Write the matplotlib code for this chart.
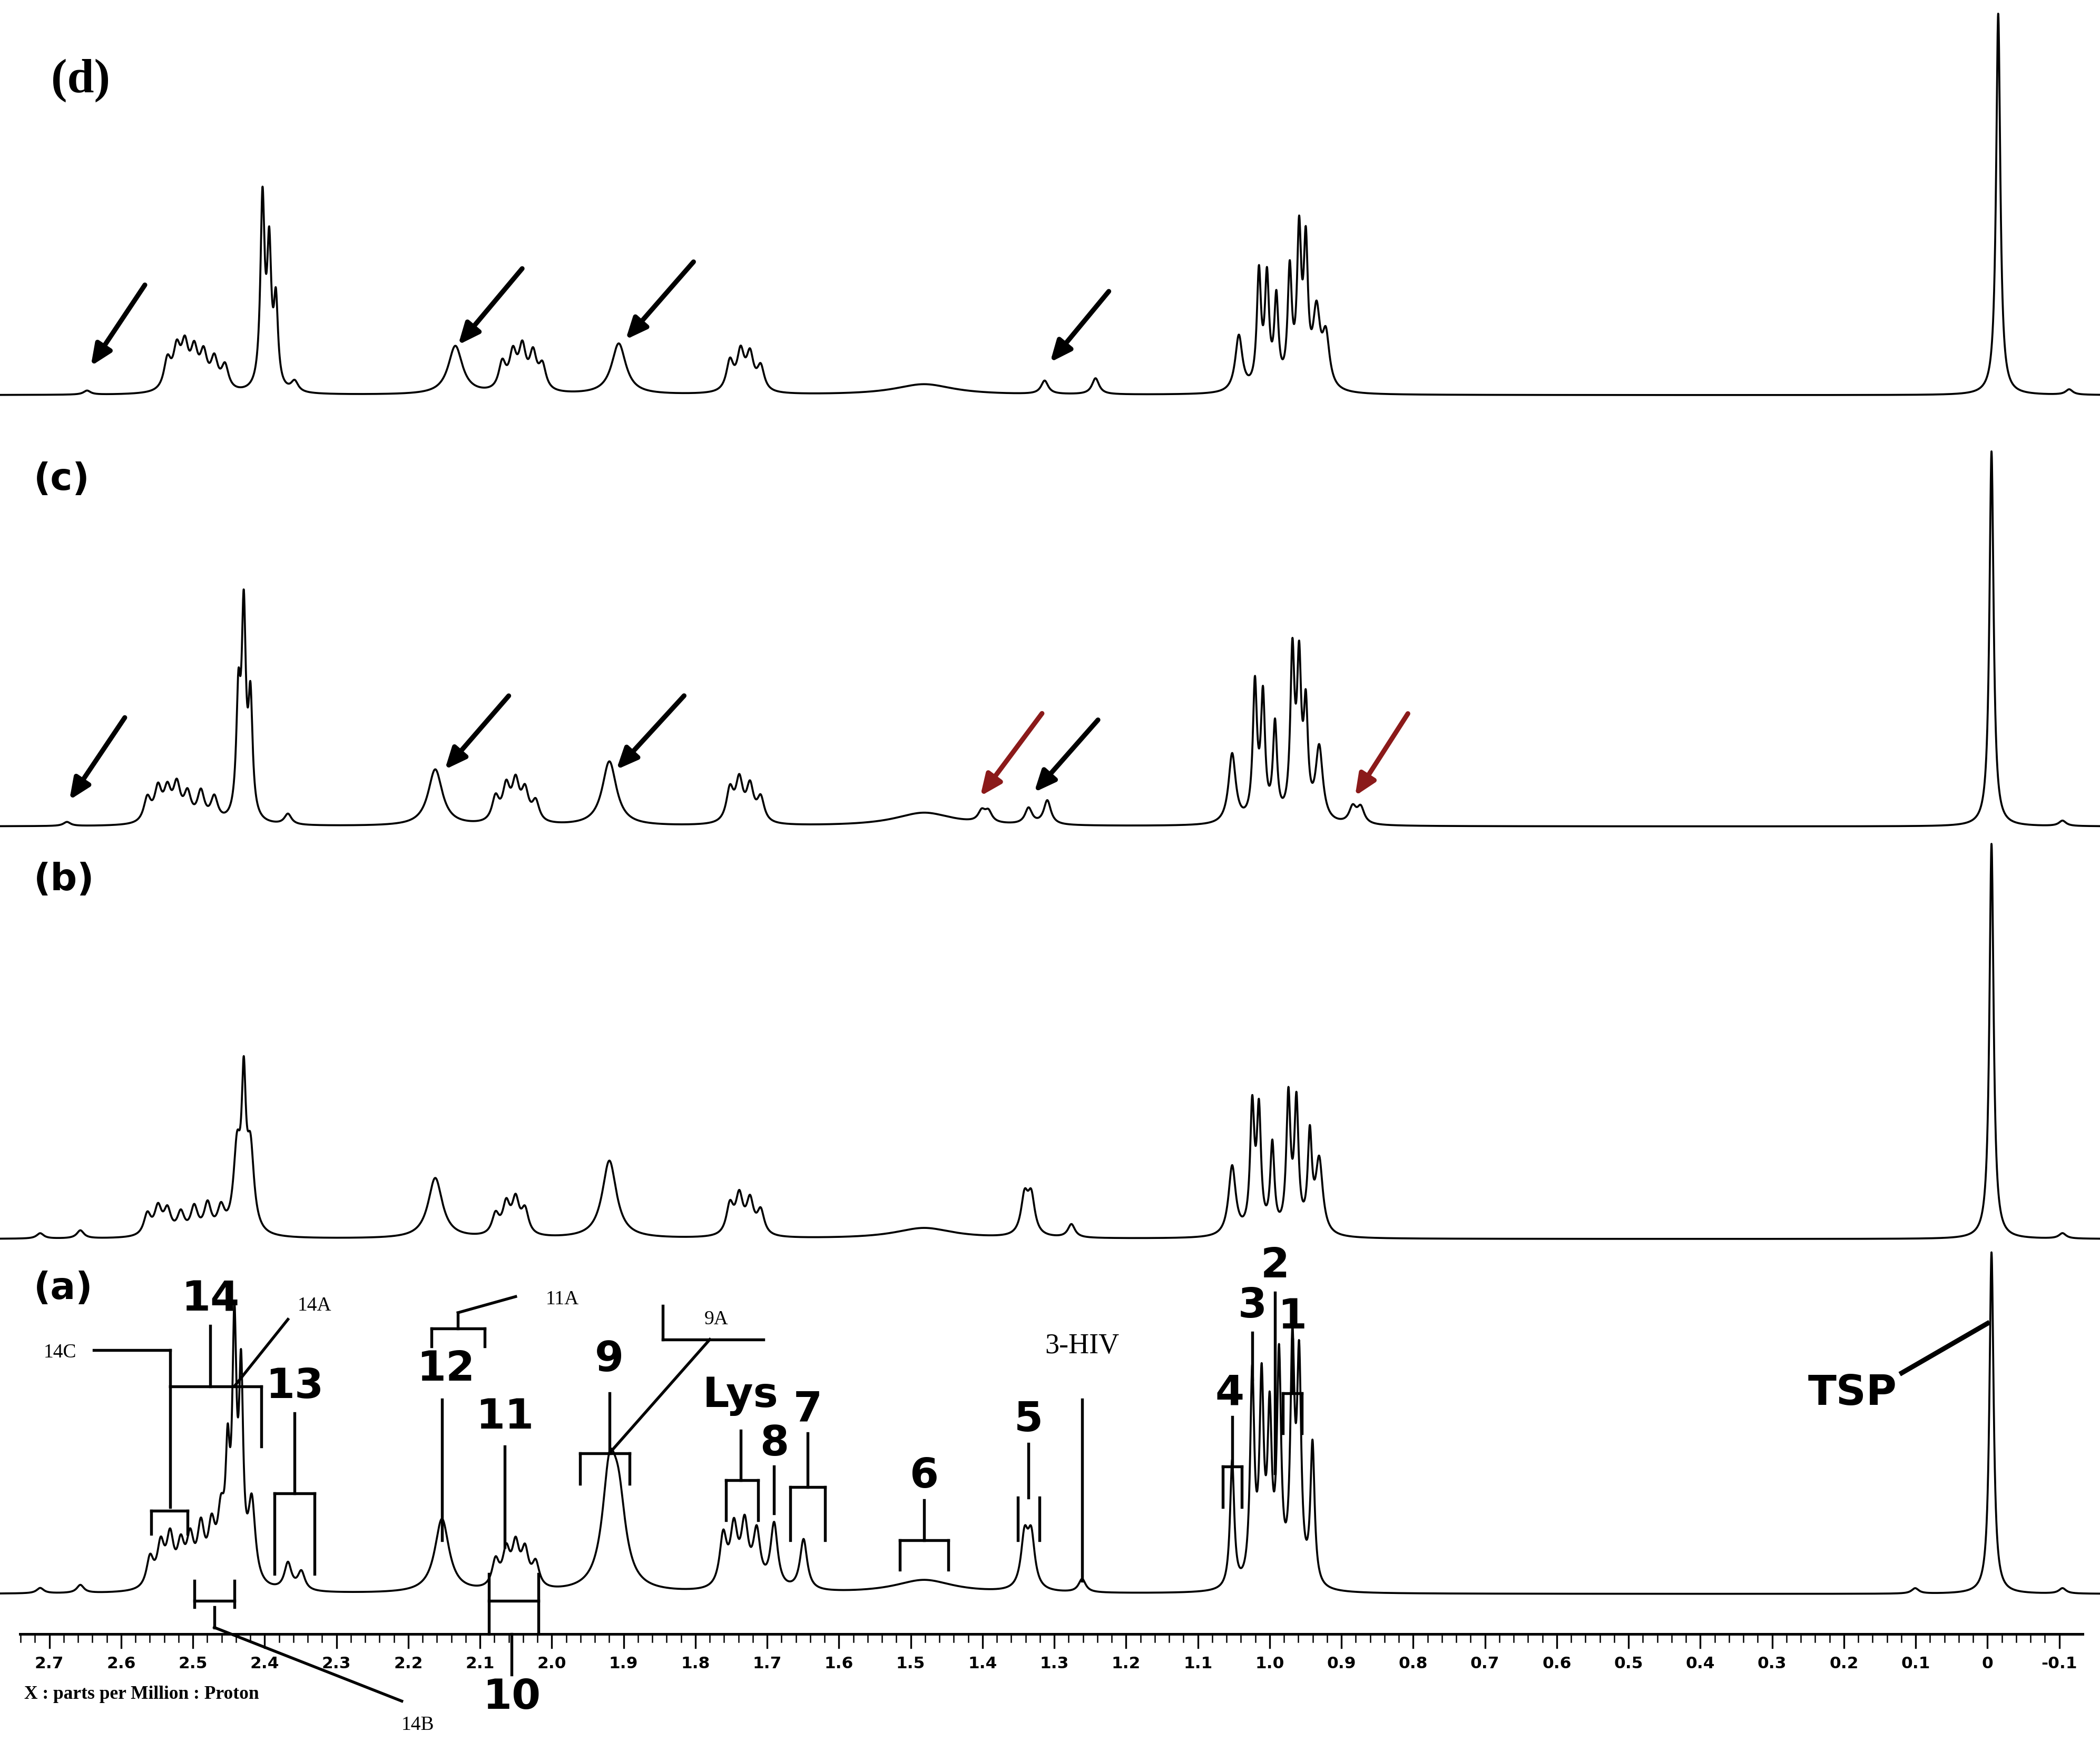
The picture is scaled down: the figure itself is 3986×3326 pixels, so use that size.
import numpy as np
import matplotlib
matplotlib.use("Agg")
import matplotlib.pyplot as plt

# ---------------- data (peak lists: ppm, height, half-width) -------------
PX0, PXPPM = 1484.0, 536.0   # reference pixel of 0 ppm and pixels per ppm
def ppm(xpx): return (PX0 - xpx) / PXPPM

spec_d_pos = [65,125,132,138,145,152,160,168,196,201,206,220,340,375,383,390,398,405,462,545,553,560,568,690,780,818,925,940,946,953,963,970,975,983,990,1492,1545]
spec_d_h   = [3,22,28,30,27,25,22,18,140,100,62,8,36,20,26,30,26,18,38,22,28,26,18,8,10,12,42,85,80,65,85,110,100,55,38,285,4]
spec_c_pos = [50,110,118,125,132,140,150,160,178,182,187,215,325,370,378,385,392,400,455,545,552,560,568,690,733,738,768,782,920,937,943,952,965,970,975,985,1010,1016,1487,1540]
spec_c_h   = [3,18,24,22,26,20,22,18,85,150,85,8,42,18,25,28,22,15,48,24,30,26,18,10,8,8,12,18,52,100,90,70,120,110,78,55,12,12,280,4]
spec_b_pos = [30,60,110,118,125,135,145,155,165,177,182,187,325,370,378,385,392,455,545,552,560,568,690,765,770,800,920,935,940,950,962,968,978,985,1487,1540]
spec_b_h   = [4,6,16,20,18,16,20,22,18,60,100,60,45,15,22,25,18,58,22,28,25,18,8,28,28,10,52,92,88,65,100,95,70,55,295,4]
spec_a_pos = [30,60,112,120,127,135,142,150,158,165,170,175,180,188,215,225,330,370,378,385,392,400,455,462,540,548,556,565,578,600,690,765,770,808,920,935,942,948,955,965,970,980,1430,1487,1540]
spec_a_h   = [4,6,22,30,35,28,32,40,38,45,80,180,145,60,20,14,55,20,26,30,26,18,80,55,38,42,45,40,48,38,10,38,38,10,95,155,145,120,165,170,160,105,4,255,4]
baselines = {"d": 295, "c": 617, "b": 925, "a": 1190}

tick_vals = [round(2.7 - 0.1 * i, 1) for i in range(29)]
tick_labels = ["0" if abs(v) < 1e-9 else f"{v:.1f}" for v in tick_vals]

# ---------------- figure ----------------
W, H = 1568, 1308
fig = plt.figure(figsize=(3986 / 300, 3326 / 300), dpi=300)
ax = fig.add_axes([0, 0, 1, 1])
ax.set_xlim(ppm(0), ppm(W))
ax.set_ylim(H, 0)
ax.axis("off")
pa = fig.add_axes([0, 0, 1, 1], facecolor="none")  # pixel overlay for annotations
pa.set_xlim(0, W); pa.set_ylim(H, 0); pa.axis("off")

x = np.linspace(ppm(0), ppm(W), 12000)
def spectrum(pos, hts, base):
    y = np.zeros_like(x)
    for p, h in zip(pos, hts):
        w = 0.0035 if h > 60 else 0.006
        if p in (340, 325, 330, 462, 455, 690):
            w = 0.012 if p != 690 else 0.05
        y += h * w**2 / ((x - ppm(p))**2 + w**2)
    return base - y

for pos, hts, key in [(spec_d_pos, spec_d_h, "d"), (spec_c_pos, spec_c_h, "c"),
                      (spec_b_pos, spec_b_h, "b"), (spec_a_pos, spec_a_h, "a")]:
    ax.plot(x, spectrum(pos, hts, baselines[key]), color="black", lw=0.9)

# x axis
ax.plot([ppm(15), ppm(1555)], [1220, 1220], color="black", lw=1.2)
for v in np.arange(-0.1, 2.76, 0.02):
    ax.plot([v, v], [1220, 1226], color="black", lw=0.6)
for v, lab in zip(tick_vals, tick_labels):
    ax.plot([v, v], [1220, 1230], color="black", lw=0.8)
    ax.text(v, 1242, lab, ha="center", va="center", fontsize=7.5, fontweight="bold", family="DejaVu Sans")
pa.text(18, 1265, "X : parts per Million : Proton", fontsize=8.5, fontweight="bold", family="Liberation Serif", va="center")

# panel labels
pa.text(38, 60, "(d)", fontsize=22, fontweight="bold", family="Liberation Serif", va="center")
for lab, yy in [("(c)", 358), ("(b)", 657), ("(a)", 962)]:
    pa.text(25, yy, lab, fontsize=17, fontweight="bold", va="center")

# arrows
arrows = [((110, 210), (66, 276), "black"), ((392, 198), (340, 260), "black"),
          ((520, 193), (465, 256), "black"), ((830, 215), (782, 273), "black"),
          ((95, 533), (50, 600), "black"), ((382, 517), (330, 577), "black"),
          ((513, 517), (458, 577), "black"), ((780, 530), (730, 597), "#8b1a1a"),
          ((822, 535), (770, 594), "black"), ((1053, 530), (1010, 597), "#8b1a1a")]
for (x0, y0), (x1, y1), c in arrows:
    pa.annotate("", xy=(x1, y1), xytext=(x0, y0),
                arrowprops=dict(arrowstyle="-|>,head_width=0.35,head_length=0.8", color=c, lw=2.2))

# (a) labels
big = [("14", 157, 970), ("13", 220, 1035), ("12", 333, 1022), ("11", 377, 1058), ("9", 455, 1015),
       ("Lys", 553, 1042), ("8", 578, 1078), ("7", 603, 1052), ("6", 690, 1102), ("5", 768, 1060),
       ("4", 918, 1040), ("3", 935, 975), ("2", 952, 945), ("1", 965, 983), ("TSP", 1383, 1040),
       ("10", 382, 1267)]
for t, xx, yy in big:
    pa.text(xx, yy, t, fontsize=19, fontweight="bold", ha="center", va="center")
small = [("14A", 235, 975), ("14C", 45, 1010), ("11A", 420, 970), ("9A", 535, 985),
         ("3-HIV", 808, 1005), ("14B", 312, 1288)]
for t, xx, yy in small:
    pa.text(xx, yy, t, fontsize=13 if t == "3-HIV" else 9, ha="center", va="center", family="Liberation Serif")

segs = [[(1420, 1025), (1484, 988)], [(808, 1045), (808, 1180)],
        [(768, 1078), (768, 1118)], [(760, 1118), (760, 1150)], [(776, 1118), (776, 1150)],
        [(690, 1120), (690, 1150)], [(672, 1150), (672, 1172)], [(708, 1150), (708, 1172)], [(672, 1150), (708, 1150)],
        [(603, 1070), (603, 1110)], [(590, 1110), (616, 1110)], [(590, 1110), (590, 1150)], [(616, 1110), (616, 1150)],
        [(578, 1095), (578, 1130)], [(553, 1068), (553, 1105)], [(542, 1105), (566, 1105)],
        [(542, 1105), (542, 1135)], [(566, 1105), (566, 1135)],
        [(455, 1040), (455, 1085)], [(433, 1085), (470, 1085)], [(433, 1085), (433, 1108)], [(470, 1085), (470, 1108)],
        [(455, 1085), (530, 1000)], [(495, 1000), (570, 1000)], [(495, 1000), (495, 975)],
        [(377, 1080), (377, 1155)], [(330, 1045), (330, 1150)], [(322, 992), (362, 992)], [(322, 992), (322, 1005)],
        [(362, 992), (362, 1005)], [(342, 992), (342, 980)], [(342, 980), (385, 968)],
        [(365, 1195), (402, 1195)], [(365, 1175), (365, 1220)], [(402, 1175), (402, 1220)], [(382, 1220), (382, 1250)],
        [(220, 1055), (220, 1115)], [(205, 1115), (235, 1115)], [(205, 1115), (205, 1175)], [(235, 1115), (235, 1175)],
        [(157, 990), (157, 1035)], [(127, 1035), (195, 1035)], [(127, 1035), (127, 1125)], [(195, 1035), (195, 1080)],
        [(175, 1035), (215, 985)], [(70, 1008), (127, 1008)], [(127, 1008), (127, 1035)],
        [(113, 1128), (140, 1128)], [(113, 1128), (113, 1145)], [(140, 1128), (140, 1145)],
        [(145, 1195), (175, 1195)], [(145, 1180), (145, 1200)], [(175, 1180), (175, 1200)], [(160, 1200), (160, 1215)],
        [(160, 1215), (300, 1270)],
        [(920, 1058), (920, 1095)], [(913, 1095), (927, 1095)], [(913, 1095), (913, 1125)], [(927, 1095), (927, 1125)],
        [(935, 995), (935, 1030)], [(952, 965), (952, 1100)], [(965, 1000), (965, 1040)],
        [(958, 1040), (972, 1040)], [(958, 1040), (958, 1070)], [(972, 1040), (972, 1070)]]
for s in segs:
    (x0, y0), (x1, y1) = s
    pa.plot([x0, x1], [y0, y1], color="black", lw=1.3 if s[0] != (1420, 1025) else 2.2)

fig.savefig("out.png", dpi=300)
